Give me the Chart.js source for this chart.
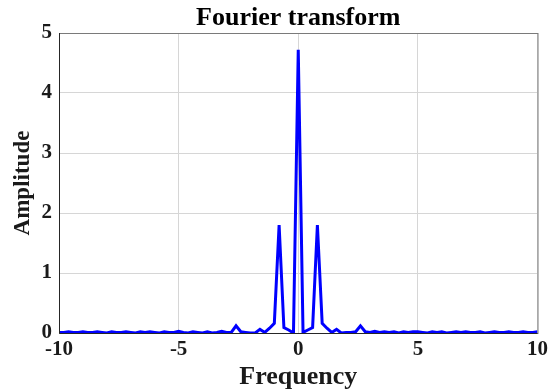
<!DOCTYPE html>
<html>
<head>
<meta charset="utf-8">
<script src="https://cdn.jsdelivr.net/npm/chart.js@4/dist/chart.umd.min.js"></script>
<style>
  html, body { margin: 0; padding: 0; background: #ffffff; }
  #wrap { width: 552px; height: 390px; position: relative; }
</style>
</head>
<body>
<div id="wrap"><canvas id="c" width="552" height="390"></canvas></div>
<script>
const frequency = [
  -10, -9.8, -9.6, -9.4, -9.2, -9, -8.8, -8.6, -8.4, -8.2,
  -8, -7.8, -7.6, -7.4, -7.2, -7, -6.8, -6.6, -6.4, -6.2,
  -6, -5.8, -5.6, -5.4, -5.2, -5, -4.8, -4.6, -4.4, -4.2,
  -4, -3.8, -3.6, -3.4, -3.2, -3, -2.8, -2.6, -2.4, -2.2,
  -2, -1.8, -1.6, -1.4, -1.2, -1, -0.8, -0.6, -0.4, -0.2,
  0,
  0.2, 0.4, 0.6, 0.8, 1, 1.2, 1.4, 1.6, 1.8, 2,
  2.2, 2.4, 2.6, 2.8, 3, 3.2, 3.4, 3.6, 3.8, 4,
  4.2, 4.4, 4.6, 4.8, 5, 5.2, 5.4, 5.6, 5.8, 6,
  6.2, 6.4, 6.6, 6.8, 7, 7.2, 7.4, 7.6, 7.8, 8,
  8.2, 8.4, 8.6, 8.8, 9, 9.2, 9.4, 9.6, 9.8, 10
];
const amplitude = [
  0.01, 0.01, 0.02, 0.01, 0.01, 0.02, 0.01, 0.01, 0.02, 0.01,
  0.00, 0.02, 0.01, 0.01, 0.02, 0.01, 0.00, 0.02, 0.01, 0.02,
  0.01, 0.00, 0.02, 0.01, 0.01, 0.03, 0.01, 0.00, 0.02, 0.01,
  0.00, 0.02, 0.00, 0.01, 0.03, 0.01, 0.01, 0.12, 0.02, 0.01,
  0.00, 0.00, 0.06, 0.01, 0.08, 0.16, 1.80, 0.09, 0.05, 0.00,
  4.72,
  0.01, 0.05, 0.09, 1.80, 0.16, 0.08, 0.01, 0.06, 0.00, 0.01,
  0.01, 0.02, 0.12, 0.02, 0.01, 0.03, 0.01, 0.02, 0.01, 0.02,
  0.00, 0.02, 0.01, 0.02, 0.02, 0.01, 0.00, 0.02, 0.01, 0.02,
  0.00, 0.01, 0.02, 0.01, 0.02, 0.01, 0.01, 0.02, 0.00, 0.01,
  0.02, 0.01, 0.01, 0.02, 0.01, 0.01, 0.02, 0.01, 0.01, 0.02
];
const xTicks = [-10, -5, 0, 5, 10];
const yTicks = [0, 1, 2, 3, 4, 5];

const points = frequency.map((f, i) => ({ x: f, y: amplitude[i] }));

const boxPlugin = {
  id: 'box',
  afterDraw(chart) {
    const { ctx, chartArea: a } = chart;
    ctx.save();
    ctx.strokeStyle = '#7a7a7a';
    ctx.lineWidth = 1;
    ctx.strokeRect(a.left + 0.5, a.top + 0.5, a.right - a.left, a.bottom - a.top);
    ctx.strokeStyle = '#262626';
    ctx.beginPath();
    ctx.moveTo(a.left + 0.5, a.top);
    ctx.lineTo(a.left + 0.5, a.bottom + 0.5);
    ctx.lineTo(a.right, a.bottom + 0.5);
    ctx.stroke();
    ctx.restore();
  }
};

const tickFont = { family: 'Liberation Serif', size: 21, weight: 'bold' };

new Chart(document.getElementById('c'), {
  type: 'scatter',
  data: {
    datasets: [{
      data: points,
      showLine: true,
      borderColor: '#0000ff',
      backgroundColor: '#0000ff',
      borderWidth: 3,
      pointRadius: 0,
      tension: 0
    }]
  },
  options: {
    responsive: false,
    animation: false,
    devicePixelRatio: 1,
    layout: { padding: { left: 0, right: 14, top: 0, bottom: 0 } },
    plugins: {
      legend: { display: false },
      tooltip: { enabled: false },
      title: {
        display: true,
        fullSize: false,
        text: 'Fourier transform',
        color: '#000000',
        font: { family: 'Liberation Serif', size: 26, weight: 'bold', lineHeight: 1.0 },
        padding: { top: 5, bottom: 2 }
      }
    },
    scales: {
      x: {
        type: 'linear',
        min: -10,
        max: 10,
        afterBuildTicks(scale) { scale.ticks = xTicks.map(v => ({ value: v })); },
        afterFit(scale) { scale.height = 57; },
        grid: { color: '#d6d6d6', drawTicks: false, lineWidth: 1 },
        border: { display: false },
        ticks: {
          color: '#1a1a1a',
          font: tickFont,
          padding: 4,
          maxRotation: 0,
          autoSkip: false
        },
        title: {
          display: true,
          text: 'Frequency',
          color: '#1a1a1a',
          font: { family: 'Liberation Serif', size: 26, weight: 'bold', lineHeight: 1.0 },
          padding: { top: 0, bottom: 0 }
        }
      },
      y: {
        min: 0,
        max: 5,
        afterBuildTicks(scale) { scale.ticks = yTicks.map(v => ({ value: v })); },
        afterFit(scale) { scale.width = 59; },
        grid: { color: '#d6d6d6', drawTicks: false, lineWidth: 1 },
        border: { display: false },
        ticks: {
          color: '#1a1a1a',
          font: tickFont,
          padding: 7
        },
        title: {
          display: true,
          text: 'Amplitude',
          color: '#1a1a1a',
          font: { family: 'Liberation Serif', size: 23, weight: 'bold', lineHeight: 1.0 },
          padding: { top: 12, bottom: 0 }
        }
      }
    }
  },
  plugins: [boxPlugin]
});
</script>
</body>
</html>
